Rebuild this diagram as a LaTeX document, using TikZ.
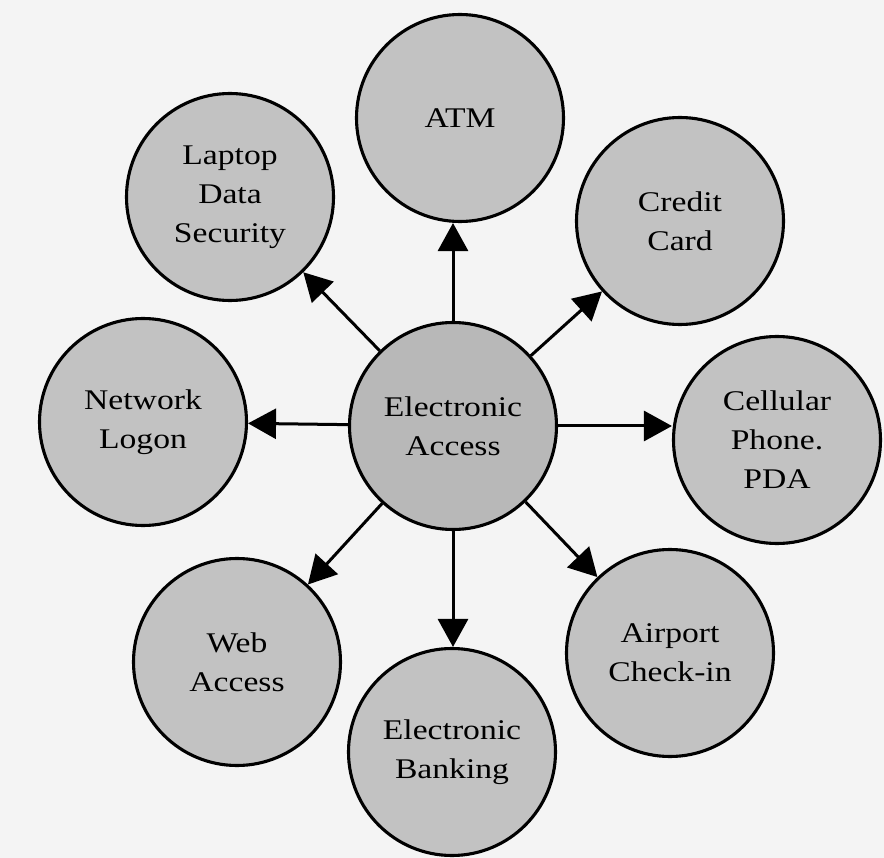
\documentclass[tikz,border=0pt]{standalone}
\usepackage{fontspec}
\setmainfont{Liberation Serif}[FakeStretch=1.18]
\usetikzlibrary{arrows.meta}
\definecolor{bggray}{gray}{0.955}
\definecolor{discgray}{gray}{0.76}
\definecolor{hubgray}{gray}{0.72}
\begin{document}
\begin{tikzpicture}[x=1pt,y=-1pt,
  disc/.style={circle,draw=black,line width=3.1pt,fill=discgray,minimum size=207pt,
    inner sep=0pt,align=center,font=\fontsize{28.5}{39}\selectfont},
  link/.style={line width=3pt,-{Triangle[length=28pt,width=30pt]}}]
\fill[bggray] (0,0) rectangle (884,858);
\useasboundingbox (0,0) rectangle (884,858);

\node[disc,fill=hubgray] (hub) at (453,426) {Electronic\\Access};
\node[disc] (atm)  at (460,118) {ATM};
\node[disc] (lap)  at (230,197) {Laptop\\Data\\Security};
\node[disc] (cc)   at (680,221) {Credit\\Card};
\node[disc] (net)  at (143,422) {Network\\Logon};
\node[disc] (cell) at (777,440) {Cellular\\Phone.\\PDA};
\node[disc] (web)  at (237,662) {Web\\Access};
\node[disc] (air)  at (670,653) {Airport\\Check-in};
\node[disc] (bank) at (452,752) {Electronic\\Banking};

\draw[link] (hub.north) -- (hub.north |- atm.south);
\draw[link] (hub) -- (lap);
\draw[link] (hub) -- (cc);
\draw[link] (hub) -- (net);
\draw[link] (hub.east) -- (hub.east -| cell.west);
\draw[link] (hub) -- (web);
\draw[link] (hub) -- (air);
\draw[link] (hub.south) -- (hub.south |- bank.north);
\end{tikzpicture}
\end{document}
